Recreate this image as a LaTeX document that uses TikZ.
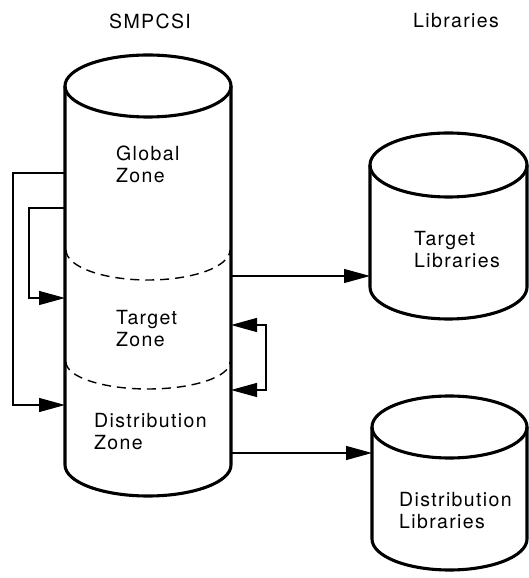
\documentclass[tikz,border=0pt]{standalone}
\usepackage{fontspec}
\setmainfont[LetterSpace=7]{TeX Gyre Heros}
\usetikzlibrary{arrows.meta}

\tikzset{
  drumline/.style={line width=3.1pt},
  zoneline/.style={line width=1.4pt, dash pattern=on 9pt off 6pt},
  link/.style={line width=1.2pt},
  lbl/.style={align=left, inner sep=0pt, font=\fontsize{19.5}{22}\selectfont},
  >={Triangle[length=26pt,width=14pt]},
}

% \drum{centre x}{top y}{bottom y}{half width}{half height of the ends}
\newcommand{\drum}[5]{%
  \draw[drumline] (#1-#4,#2) -- (#1-#4,#3)
    arc[start angle=180, end angle=360, x radius=#4, y radius=#5] -- (#1+#4,#2);
  \draw[drumline] (#1,#2) ellipse[x radius=#4, y radius=#5];
}

\begin{document}
\begin{tikzpicture}[x=1pt,y=1pt]
    \useasboundingbox (0,0) rectangle (528,578);

    % SMPCSI with its three zones
    \drum{148}{492}{113}{83}{31}
    \draw[zoneline] (66,328) arc[start angle=180, end angle=360, x radius=82, y radius=30];
    \draw[zoneline] (66,216) arc[start angle=180, end angle=360, x radius=82, y radius=27];

    % the two library sets
    \drum{448.5}{413}{291}{78.5}{32}
    \drum{449.5}{151}{39}{77.5}{31}

    \node[lbl] (smpcsi) at (150,557) {SMPCSI};
    \node[lbl] (libs) at (456,557) {Libraries};
    \node[lbl, anchor=west] (global) at (116,414) {Global\\Zone};
    \node[lbl, anchor=west] (target) at (116,249) {Target\\Zone};
    \node[lbl, anchor=west] (dlib) at (94,146) {Distribution\\Zone};
    \node[lbl, anchor=west] (tlibs) at (414,328) {Target\\Libraries};
    \node[lbl, anchor=west] (dlibs) at (399,67) {Distribution\\Libraries};

    \coordinate (gz1) at (65,405);
    \coordinate (gz2) at (65,370);
    \coordinate (tz1) at (65,280);
    \coordinate (tz2) at (231,253);
    \coordinate (tz3) at (231,302);
    \coordinate (dz1) at (65,173);
    \coordinate (dz2) at (231,188);
    \coordinate (dz3) at (231,125);
    \coordinate (tl) at (370,302);
    \coordinate (dl) at (372,125);

    \draw[link,->] (gz1) -- ++(-52,0) |- (dz1);
    \draw[link,->] (gz2) -- ++(-36,0) |- (tz1);
    \draw[link,<->] (tz2) -- ++(35,0) |- (dz2);
    \draw[link,->] (tz3) -- (tl);
    \draw[link,->] (dz3) -- (dl);
\end{tikzpicture}
\end{document}
